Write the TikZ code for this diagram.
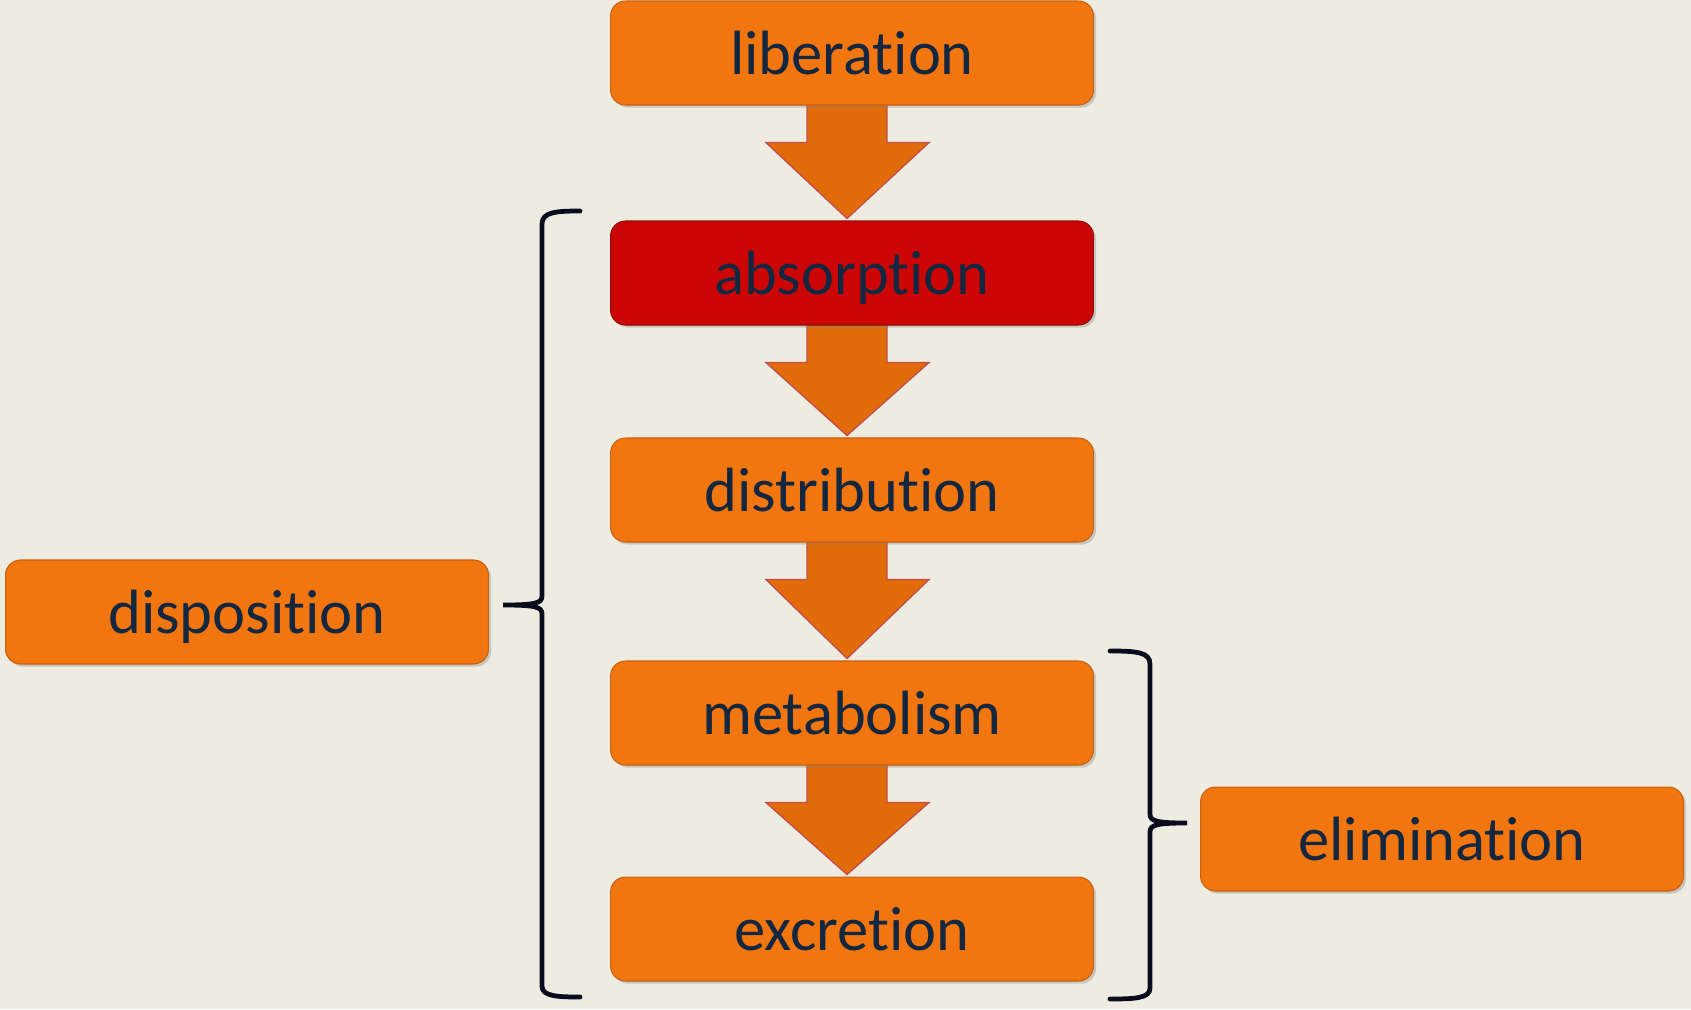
\documentclass[tikz,border=0pt]{standalone}
\usepackage{fontspec}
\setmainfont{Carlito}[Ligatures=NoCommon]
\usetikzlibrary{calc,shadows,backgrounds}
\definecolor{paper}{RGB}{238,236,225}
\definecolor{boxorange}{RGB}{242,118,16}
\definecolor{boxedge}{RGB}{200,96,14}
\definecolor{boxred}{RGB}{204,5,5}
\definecolor{rededge}{RGB}{150,10,10}
\definecolor{arroworange}{RGB}{227,108,10}
\definecolor{arrowedge}{RGB}{192,80,77}
\definecolor{textnavy}{RGB}{20,39,64}
\definecolor{braceink}{RGB}{8,12,28}
\tikzset{
  stage/.style={draw=boxedge, line width=0.6pt, fill=boxorange, rounded corners=0.3cm,
    minimum width=9.66cm, minimum height=2.08cm, text height=0.84cm, text depth=0pt,
    inner sep=0pt, text=textnavy, font=\fontsize{35.6pt}{40pt}\selectfont,
    drop shadow={shadow xshift=1.5pt, shadow yshift=-1.5pt, opacity=0.35}},
  flow/.style={draw=arrowedge, line width=0.8pt, fill=arroworange, line join=miter},
  brace/.style={draw=braceink, line width=2.7pt, line cap=round}
}
\begin{document}
\begin{tikzpicture}[x=0.02cm,y=-0.02cm]
\useasboundingbox (0,0) rectangle (1691,1009);
% stages
\node[stage] (lib) at (852,53) {liberation};
\node[stage, fill=boxred, draw=rededge] (abs) at (852,273) {absorption};
\node[stage] (dist) at (852,490) {distribution};
\node[stage] (meta) at (852,713) {metabolism};
\node[stage] (exc) at (852,929) {excretion};
\node[stage] (disp) at (247,612) {disposition};
\node[stage] (elim) at (1442,839) {elimination};
\begin{scope}[on background layer]
\fill[paper] (0,0) rectangle (1691,1009);
% block arrows
\foreach \a/\b in {lib/abs,abs/dist,dist/meta,meta/exc}{
  \draw[flow] ($(\a.south)+(-45,-2)$) -- ($(\a.south)+(-45,37)$) -- ($(\a.south)+(-86,37)$)
    -- ($(\b.north)+(-5,-2)$) -- ($(\a.south)+(77,37)$) -- ($(\a.south)+(35,37)$)
    -- ($(\a.south)+(35,-2)$) -- cycle;
}
\end{scope}
% braces
\coordinate (disptip) at (503,605);
\coordinate (elimtip) at (1187,823);
\draw[brace] (580,211) .. controls (556,211) and (542,212) .. (542,224)
  -- (542,596) .. controls (542,603) and (536,605) .. (disptip)
  .. controls (536,605) and (542,607) .. (542,614)
  -- (542,986) .. controls (542,996) and (556,997) .. (580,997);
\draw[brace] (1110,651) .. controls (1136,651) and (1150,652) .. (1150,664)
  -- (1150,814) .. controls (1150,821) and (1156,823) .. (elimtip)
  .. controls (1156,823) and (1150,825) .. (1150,832)
  -- (1150,988) .. controls (1150,998) and (1136,999) .. (1110,999);
\end{tikzpicture}
\end{document}
